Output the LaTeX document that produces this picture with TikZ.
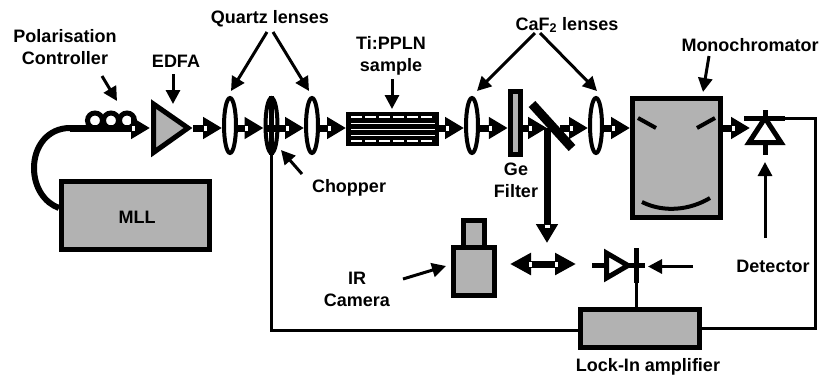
\documentclass[tikz,border=0pt]{standalone}
\usepackage{fontspec}
\setmainfont{Liberation Sans}
\usetikzlibrary{arrows.meta,shapes.geometric,decorations.markings}
\definecolor{boxgray}{HTML}{B2B2B2}
\tikzset{
	lab/.style={font=\bfseries\fontsize{18}{22}\selectfont,align=center,inner sep=0pt},
	lens/.style={draw,ellipse,fill=white,line width=4pt,minimum width=12pt,minimum height=55pt,inner sep=0pt},
	unit/.style={draw,fill=boxgray,line width=5pt,inner sep=0pt},
	beam/.style={line width=7pt,-{Triangle[length=19pt,width=21pt]},postaction={decorate,decoration={markings,mark=at position -17pt with {\fill[white] (-1.5pt,-2.5pt) rectangle (1.5pt,2.5pt);}}}},
	beamboth/.style={line width=7pt,{Triangle[length=21pt,width=21pt]}-{Triangle[length=21pt,width=21pt]},postaction={decorate,decoration={markings,mark=at position 20pt with {\fill[white] (-1.5pt,-2.5pt) rectangle (1.5pt,2.5pt);},mark=at position -20pt with {\fill[white] (-1.5pt,-2.5pt) rectangle (1.5pt,2.5pt);}}}},
	pointer/.style={line width=3pt,-{Triangle[length=14pt,width=14pt]}},
	wire/.style={line width=3pt},
}
\begin{document}
\begin{tikzpicture}[x=1pt,y=-1pt]
		\useasboundingbox (0,0) rectangle (823,376);
		\node[unit,minimum width=148pt,minimum height=68pt] (mll) at (135.5,215.5) {};
		\node[lab] at (137,217) {MLL};
		\node[lens] (lensa) at (230,125.5) {};
		\node[lens] (chopper) at (271.5,125.5) {};
		\node[lens] (lensb) at (312,125.5) {};
		\node[lens] (lensc) at (472,125.5) {};
		\node[lens] (lensd) at (596,125.5) {};
		\node[unit,minimum width=10.5pt,minimum height=63pt] (filter) at (515.5,123.3) {};
		\node[unit,minimum width=88pt,minimum height=119pt] (mono) at (676.5,158) {};
		\node[unit,minimum width=119pt,minimum height=38pt] (lockin) at (640,328.5) {};
		\node[unit,minimum width=21pt,minimum height=28pt] (camtop) at (474,234) {};
		\node[unit,minimum width=41pt,minimum height=48pt] (camera) at (474,271.5) {};
		\node[draw,fill=black,line width=2pt,minimum width=91pt,minimum height=32pt,inner sep=0pt] (sample) at (392.5,129) {};
		\foreach \y in {117,141}
		{
			\draw[white,line width=1.5pt,dash pattern=on 11pt off 3pt] (351,\y) -- (435,\y);
		}
		\foreach \y in {123,129,135}
		{
			\draw[white,line width=0.8pt] (351,\y) -- (435,\y);
		}
		\draw[line width=5.5pt] (chopper.north) -- (chopper.south);
		\draw[line width=7pt] (chopper.west |- 0,128) -- (chopper.east |- 0,128);
		\coordinate (edfa) at (150,128);
		\coordinate (edfatip) at (193,128);
		\draw[line width=5pt,fill=boxgray,miter limit=10] (153.5,104) -- (153.5,152.5) -- (188,128) -- cycle;
		\foreach \x in {95,111,127}
		{
			\draw[line width=5pt] (\x,120.5) circle (7.5pt);
		}
		\coordinate (fibre) at (70,128);
		\draw[beam] (fibre) -- (edfa);
		\draw[line width=6pt] (fibre) .. controls (48,128) and (34,146) .. (34,168) .. controls (34,188) and (45,203) .. (mll.west |- 0,208);
		\draw[beam] (edfatip) -- (lensa.west |- 0,128);
		\draw[beam] (lensa.east |- 0,128) -- (chopper.west |- 0,128);
		\draw[beam] (chopper.east |- 0,128) -- (lensb.west |- 0,128);
		\draw[beam] (lensb.east |- 0,128) -- (sample.west |- 0,128);
		\draw[beam] (sample.east |- 0,128) -- (lensc.west |- 0,128);
		\draw[beam] (lensc.east |- 0,128) -- (filter.west |- 0,128);
		\coordinate (split) at (547,128);
		\draw[beam] (filter.east |- 0,128) -- (split);
		\draw[beam] (560,128) -- (lensd.west |- 0,128);
		\draw[beam] (lensd.east |- 0,128) -- (mono.west |- 0,128);
		\coordinate (flip) at (547,243);
		\draw[beam] (split) -- (flip);
		\draw[line width=9pt] (532,104) -- (572,148);
		\draw[beamboth] (510,264) -- (576,264);
		\draw[beam] (mono.east |- 0,128) -- (750,128);
		\draw[line width=4pt] (638,118) -- (656,128);
		\draw[line width=4pt] (697,128) -- (715,118);
		\draw[line width=4pt] (642,202) .. controls (664,213) and (690,210) .. (710,198);
		\coordinate (deta) at (765,118);
		\draw[line width=5pt] (744,118) -- (785,118);
		\draw[line width=5pt] (deta) ++(0,-8) -- (deta);
		\draw[line width=5pt,miter limit=10] (deta) -- (781,142.5) -- (749,142.5) -- cycle;
		\draw[line width=5pt] (765,144) -- (765,155);
		\coordinate (detb) at (636,265.5);
		\draw[line width=5pt,miter limit=10] (606.5,253) -- (606.5,278) -- (628,265.5) -- cycle;
		\draw[line width=5pt] (592,265.5) -- (606,265.5);
		\draw[line width=5pt] (636,248) -- (636,283);
		\draw[line width=5pt] (628,265.5) -- (645,265.5);
		\draw[wire] (detb) -- (detb |- lockin.north);
		\draw[wire] (785,118) -- (815.5,118) -- (815.5,328.5) -- (lockin.east);
		\draw[wire] (chopper.south) -- (271.5,330) -- (lockin.west |- 0,330);
		\node[lab] at (65,47.5) {Polarisation\\Controller};
		\node[lab] at (176,61) {EDFA};
		\node[lab] at (270,19) {Quartz lenses};
		\node[lab] at (391,56) {Ti:PPLN\\sample};
		\node[lab] at (567,25) {CaF\textsubscript{2} lenses};
		\node[lab] at (516,180) {Ge\\Filter};
		\node[lab] at (349,188) {Chopper};
		\node[lab] at (357,289) {IR\\Camera};
		\node[lab] at (750,45) {Monochromator};
		\node[lab] at (773,266) {Detector};
		\node[lab] at (648,367) {Lock-In amplifier};
		\draw[pointer] (102,76) -- (117,101);
		\draw[pointer] (173,74) -- (173,104);
		\draw[pointer] (267,32) -- (231,91);
		\draw[pointer] (273,32) -- (309,91);
		\draw[pointer] (392,79) -- (392,109);
		\draw[pointer] (535,33) -- (477,91);
		\draw[pointer] (540,33) -- (597,91);
		\draw[pointer] (302,174) -- (281,150);
		\draw[pointer] (709,56) -- (703,92);
		\draw[pointer] (403,279) -- (446,266);
		\draw[pointer] (693,266.5) -- (648,266.5);
		\draw[pointer] (765,238) -- (765,162);
		\end{tikzpicture}
\end{document}
